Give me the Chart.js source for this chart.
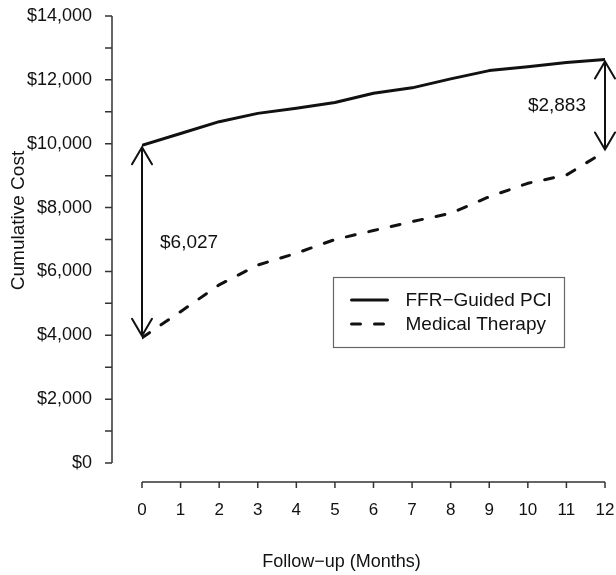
<!DOCTYPE html>
<html>
<head>
<meta charset="utf-8">
<script src="https://cdn.jsdelivr.net/npm/chart.js@4/dist/chart.umd.min.js"></script>
<style>
  html, body { margin: 0; padding: 0; background: #fff; }
  #wrap { width: 616px; height: 575px; }
</style>
</head>
<body>
<div id="wrap"><canvas id="c" width="616" height="575"></canvas></div>
<script>
// ---- data ----
const months = [0, 1, 2, 3, 4, 5, 6, 7, 8, 9, 10, 11, 12];
const ffrCost = [9950, 10320, 10690, 10950, 11110, 11290, 11580, 11750, 12030, 12290, 12410, 12540, 12640];
const medCost = [3923, 4740, 5580, 6200, 6570, 7000, 7280, 7560, 7820, 8340, 8760, 9020, 9757];
const seriesNames = ['FFR\u2212Guided PCI', 'Medical Therapy'];
const diffMonths = [0, 12];
const diffLabels = ['$6,027', '$2,883'];
const xTitle = 'Follow\u2212up (Months)';
const yTitle = 'Cumulative Cost';

const FONT = '"Liberation Sans", Arial, Helvetica, sans-serif';
const INK = '#111';
const DASH = [9, 14];

const toPts = (ys) => months.map((m, i) => ({ x: m, y: ys[i] }));

function fmtDollar(v) {
  return '$' + Number(v).toLocaleString('en-US');
}

const rPlot = {
  id: 'rPlot',
  afterDraw(chart) {
    const ctx = chart.ctx;
    const ca = chart.chartArea;
    const xs = chart.scales.x, ys = chart.scales.y;
    ctx.save();
    // ---- detached axes (R style) ----
    ctx.strokeStyle = '#333';
    ctx.lineWidth = 1.5;
    const axX = ca.left - 30;
    const axY = ca.bottom + 19;
    ctx.beginPath();
    ctx.moveTo(axX, ys.getPixelForValue(0));
    ctx.lineTo(axX, ys.getPixelForValue(14000));
    for (let v = 0; v <= 14000; v += 1000) {
      const p = ys.getPixelForValue(v);
      ctx.moveTo(axX, p);
      ctx.lineTo(axX - 7, p);
    }
    ctx.moveTo(xs.getPixelForValue(0), axY);
    ctx.lineTo(xs.getPixelForValue(12), axY);
    for (let m = 0; m <= 12; m++) {
      const p = xs.getPixelForValue(m);
      ctx.moveTo(p, axY);
      ctx.lineTo(p, axY + 6);
    }
    ctx.stroke();

    // ---- axis titles ----
    ctx.fillStyle = INK;
    ctx.font = '18px ' + FONT;
    ctx.textAlign = 'center';
    ctx.textBaseline = 'middle';
    ctx.fillText(xTitle, (ca.left + ca.right) / 2 - 32, 562);
    ctx.save();
    ctx.translate(24, (ca.top + ca.bottom) / 2 - 19);
    ctx.rotate(-Math.PI / 2);
    ctx.font = '19px ' + FONT;
    ctx.textBaseline = 'alphabetic';
    ctx.fillText(yTitle, 0, 0);
    ctx.restore();

    // ---- difference arrows ----
    ctx.strokeStyle = INK;
    ctx.lineWidth = 2;
    ctx.lineCap = 'round';
    diffMonths.forEach((m, k) => {
      const i = months.indexOf(m);
      const px = xs.getPixelForValue(m);
      const top = ys.getPixelForValue(ffrCost[i]) + 2;
      const bot = ys.getPixelForValue(medCost[i]) - 2;
      ctx.beginPath();
      ctx.moveTo(px, top); ctx.lineTo(px, bot);
      ctx.moveTo(px - 10, top + 17); ctx.lineTo(px, top); ctx.lineTo(px + 10, top + 17);
      ctx.moveTo(px - 10, bot - 17); ctx.lineTo(px, bot); ctx.lineTo(px + 10, bot - 17);
      ctx.stroke();
      ctx.font = '19px ' + FONT;
      ctx.textBaseline = 'middle';
      if (k === 0) {
        ctx.textAlign = 'left';
        ctx.fillText(diffLabels[k], px + 18, ys.getPixelForValue((ffrCost[i] + medCost[i]) / 2) + 1);
      } else {
        ctx.textAlign = 'right';
        ctx.fillText(diffLabels[k], px - 19, (top + bot) / 2);
      }
    });

    // ---- legend box ----
    const lx = ca.left + 191.5, ly = ca.top + 261.5, lw = 231, lh = 70;
    ctx.strokeStyle = '#666';
    ctx.lineWidth = 1.2;
    ctx.lineCap = 'butt';
    ctx.strokeRect(lx, ly, lw, lh);
    chart.data.datasets.forEach((ds, k) => {
      const yy = ly + 22.5 + k * 24;
      ctx.strokeStyle = INK;
      ctx.lineWidth = 3;
      ctx.lineCap = 'round';
      ctx.setLineDash(ds.borderDash || []);
      ctx.beginPath();
      ctx.moveTo(lx + 18, yy);
      ctx.lineTo(lx + 54, yy);
      ctx.stroke();
      ctx.setLineDash([]);
      ctx.fillStyle = INK;
      ctx.font = '19px ' + FONT;
      ctx.textAlign = 'left';
      ctx.textBaseline = 'middle';
      ctx.fillText(ds.label, lx + 72, yy + 1);
    });
    ctx.restore();
  }
};

new Chart(document.getElementById('c'), {
  type: 'line',
  data: {
    datasets: [
      { label: seriesNames[0], data: toPts(ffrCost), borderColor: INK, borderWidth: 3, borderCapStyle: 'round', borderJoinStyle: 'round', pointRadius: 0, tension: 0, fill: false },
      { label: seriesNames[1], data: toPts(medCost), borderColor: INK, borderWidth: 3, borderCapStyle: 'round', borderJoinStyle: 'round', borderDash: DASH, pointRadius: 0, tension: 0, fill: false }
    ]
  },
  options: {
    responsive: false,
    devicePixelRatio: 1,
    animation: false,
    layout: { padding: { top: 16, right: 11, left: 0, bottom: 0 } },
    plugins: { legend: { display: false }, tooltip: { enabled: false } },
    scales: {
      x: {
        type: 'linear', min: 0, max: 12,
        grid: { display: false, drawTicks: false },
        border: { display: false },
        afterFit: (s) => { s.height = 112; s.paddingLeft = 0; s.paddingRight = 0; },
        ticks: { stepSize: 1, padding: 37, color: INK, font: { size: 17, family: FONT } }
      },
      y: {
        min: 0, max: 14000,
        grid: { display: false, drawTicks: false },
        border: { display: false },
        afterFit: (s) => { s.width = 142; s.paddingTop = 0; s.paddingBottom = 0; },
        ticks: {
          stepSize: 1000, autoSkip: false, padding: 50, color: INK,
          font: { size: 18, family: FONT },
          callback: (v) => (v % 2000 === 0 ? fmtDollar(v) : '')
        }
      }
    }
  },
  plugins: [rPlot]
});
</script>
</body>
</html>
